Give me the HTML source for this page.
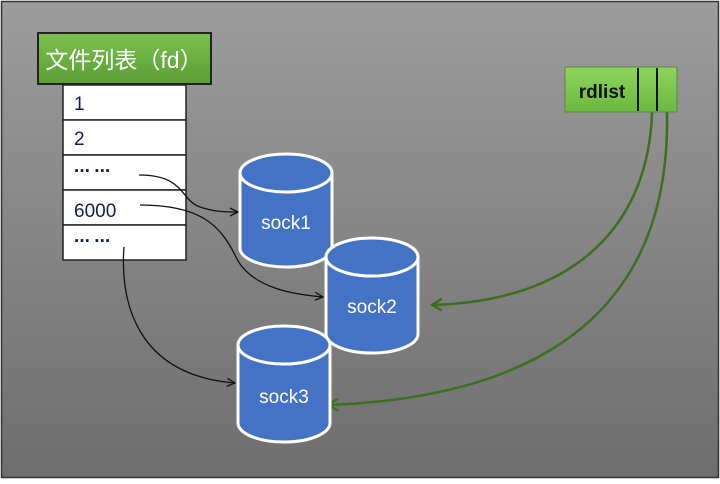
<!DOCTYPE html>
<html><head><meta charset="utf-8"><style>
html,body{margin:0;padding:0;}
body{width:720px;height:479px;overflow:hidden;}
</style></head><body>
<svg width="720" height="479" xmlns="http://www.w3.org/2000/svg" font-family="'Liberation Sans','Noto Sans CJK SC',sans-serif">
<defs>
<linearGradient id="bg" x1="0" y1="0" x2="0" y2="1">
<stop offset="0" stop-color="#9c9c9c"/><stop offset="1" stop-color="#6e6e6e"/>
</linearGradient>
<linearGradient id="gr" x1="0" y1="0" x2="0" y2="1">
<stop offset="0" stop-color="#7dc04f"/><stop offset="1" stop-color="#5a9e35"/>
</linearGradient>
<linearGradient id="gr2" x1="0" y1="0" x2="0" y2="1">
<stop offset="0" stop-color="#8fd45e"/><stop offset="1" stop-color="#6cb83f"/>
</linearGradient>
<marker id="ab" markerWidth="10" markerHeight="10" refX="9" refY="5" orient="auto" markerUnits="userSpaceOnUse"><path d="M1,1 L9,5 L1,9" fill="none" stroke="#111" stroke-width="1.3"/></marker>
<marker id="ag" markerWidth="14" markerHeight="14" refX="12" refY="7" orient="auto" markerUnits="userSpaceOnUse"><path d="M2,1 L12,7 L2,13" fill="none" stroke="#3f6e22" stroke-width="2.5"/></marker>
</defs>
<rect width="720" height="479" fill="#fff"/>
<rect x="1.5" y="1.5" width="717" height="476" fill="url(#bg)" stroke="#333" stroke-width="1.5"/>
<rect x="38" y="33" width="173" height="51" fill="url(#gr)" stroke="#222" stroke-width="2"/>
<text x="124" y="68" font-size="23" fill="#fff" text-anchor="middle">文件列表（fd）</text>
<g stroke="#222" stroke-width="1.5" fill="#fff">
<rect x="63" y="85" width="123" height="35"/>
<rect x="63" y="120" width="123" height="35"/>
<rect x="63" y="155" width="123" height="35"/>
<rect x="63" y="190" width="123" height="35"/>
<rect x="63" y="225" width="123" height="35"/>
</g>
<g font-size="19" fill="#10204a">
<text x="74" y="110">1</text>
<text x="74" y="145">2</text>
<text x="74" y="177" font-weight="bold" letter-spacing="-1">··· ···</text>
<text x="74" y="217">6000</text>
<text x="74" y="247" font-weight="bold" letter-spacing="-1">··· ···</text>
</g>
<g fill="none" stroke="#111" stroke-width="1.3">
<path d="M139,175 C185,175 180,200 200,207 C215,212 225,212 238,212" marker-end="url(#ab)"/>
<path d="M140,205 C200,205 220,225 235,255 C250,290 300,295 323,297" marker-end="url(#ab)"/>
<path d="M124,247 C120,300 135,375 235,383" marker-end="url(#ab)"/>
</g>
<g fill="none" stroke="#3f6e22" stroke-width="2.5">
<path d="M652,112 C650,200 600,300 432,305" marker-end="url(#ag)"/>
<path d="M667,112 C670,260 600,395 328,405" marker-end="url(#ag)"/>
</g>
<rect x="565" y="67" width="112" height="45" fill="url(#gr2)" stroke="#5a8a3a" stroke-width="1"/>
<line x1="638" y1="68" x2="638" y2="111" stroke="#111" stroke-width="2"/>
<line x1="657" y1="68" x2="657" y2="111" stroke="#111" stroke-width="2"/>
<text x="602" y="98" font-size="19" font-weight="bold" fill="#111" text-anchor="middle">rdlist</text>
<g stroke="#fff" stroke-width="3" fill="#4472c4">
<path d="M240,173 L240,248 A46,19 0 0 0 332,248 L332,173"/>
<ellipse cx="286" cy="173" rx="46" ry="19"/>
<path d="M326,257 L326,334 A46,19 0 0 0 418,334 L418,257"/>
<ellipse cx="372" cy="257" rx="46" ry="19"/>
<path d="M238,345 L238,423 A46,19 0 0 0 330,423 L330,345"/>
<ellipse cx="284" cy="345" rx="46" ry="19"/>
</g>
<g font-size="19" fill="#fff" text-anchor="middle">
<text x="286" y="229">sock1</text>
<text x="372" y="313">sock2</text>
<text x="284" y="403">sock3</text>
</g>
</svg>
</body></html>
